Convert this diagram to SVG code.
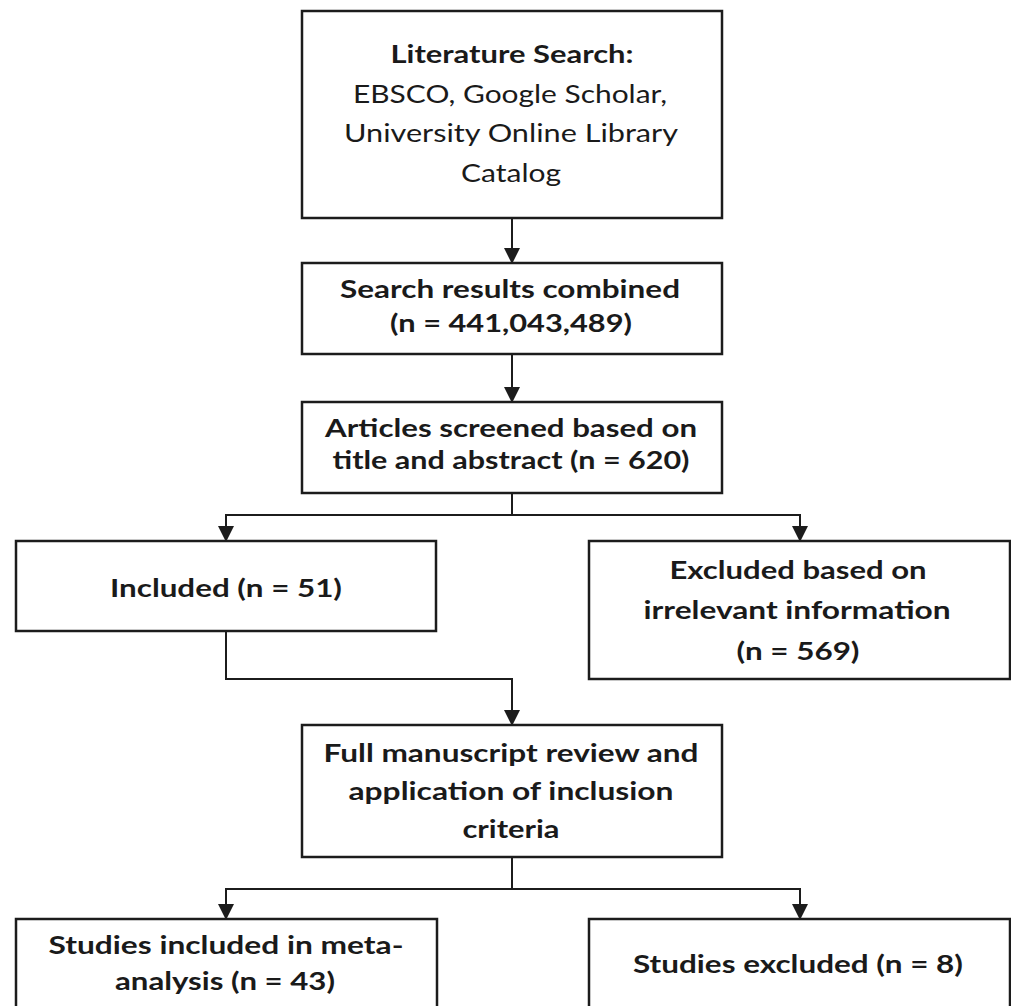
<svg xmlns="http://www.w3.org/2000/svg" width="1011" height="1006" viewBox="0 0 1011 1006">
<style>
.box{fill:#fff;stroke:#1c1c1c;stroke-width:2.5}
.b{font-family:Lato,"Open Sans","Liberation Sans",sans-serif;font-weight:bold;font-size:25px;fill:#1a1a1a;text-anchor:middle}
.r{font-family:Lato,"Open Sans","Liberation Sans",sans-serif;font-size:25px;fill:#1a1a1a;text-anchor:middle}
.c{fill:none;stroke:#1c1c1c;stroke-width:2}
</style>
<defs>
<marker id="ah" markerUnits="userSpaceOnUse" markerWidth="16" markerHeight="16" refX="15" refY="8" orient="auto">
<path d="M0,0 L16,8 L0,16 z" fill="#1c1c1c"/>
</marker>
</defs>
<rect width="1011" height="1006" fill="#fff"/>
<g id="connectors">
<path class="c" d="M512,218 V263" marker-end="url(#ah)"/>
<path class="c" d="M512,354 V402" marker-end="url(#ah)"/>
<path class="c" d="M512,493 V515 H226 V541" marker-end="url(#ah)"/>
<path class="c" d="M512,515 H800 V541" marker-end="url(#ah)"/>
<path class="c" d="M226,631 V679 H512 V725" marker-end="url(#ah)"/>
<path class="c" d="M512,857 V889 H226 V919" marker-end="url(#ah)"/>
<path class="c" d="M512,889 H800 V919" marker-end="url(#ah)"/>
</g>
<g id="n1">
<rect class="box" x="302" y="11" width="420" height="207"/>
<text class="b" x="512" y="63" textLength="243" lengthAdjust="spacingAndGlyphs">Literature Search:</text>
<text class="r" x="510" y="103" textLength="314" lengthAdjust="spacingAndGlyphs">EBSCO, Google Scholar,</text>
<text class="r" x="511" y="142" textLength="334" lengthAdjust="spacingAndGlyphs">University Online Library</text>
<text class="r" x="511" y="182" textLength="100" lengthAdjust="spacingAndGlyphs">Catalog</text>
</g>
<g id="n2">
<rect class="box" x="302" y="263" width="420" height="91"/>
<text class="b" x="510" y="298" textLength="340" lengthAdjust="spacingAndGlyphs">Search results combined</text>
<text class="b" x="511" y="332" textLength="242" lengthAdjust="spacingAndGlyphs">(n = 441,043,489)</text>
</g>
<g id="n3">
<rect class="box" x="302" y="402" width="420" height="91"/>
<text class="b" x="511" y="437" textLength="372" lengthAdjust="spacingAndGlyphs">Articles screened based on</text>
<text class="b" x="511" y="469" textLength="357" lengthAdjust="spacingAndGlyphs">title and abstract (n = 620)</text>
</g>
<g id="n4">
<rect class="box" x="16" y="541" width="420" height="90"/>
<text class="b" x="226" y="597" textLength="232" lengthAdjust="spacingAndGlyphs">Included (n = 51)</text>
</g>
<g id="n5">
<rect class="box" x="589" y="541" width="421" height="138"/>
<text class="b" x="798" y="579" textLength="257" lengthAdjust="spacingAndGlyphs">Excluded based on</text>
<text class="b" x="797" y="619" textLength="307" lengthAdjust="spacingAndGlyphs">irrelevant information</text>
<text class="b" x="798" y="660" textLength="123" lengthAdjust="spacingAndGlyphs">(n = 569)</text>
</g>
<g id="n6">
<rect class="box" x="302" y="725" width="420" height="132"/>
<text class="b" x="511" y="762" textLength="375" lengthAdjust="spacingAndGlyphs">Full manuscript review and</text>
<text class="b" x="511" y="800" textLength="325" lengthAdjust="spacingAndGlyphs">application of inclusion</text>
<text class="b" x="511" y="838" textLength="97" lengthAdjust="spacingAndGlyphs">criteria</text>
</g>
<g id="n7">
<rect class="box" x="16" y="919" width="421" height="100"/>
<text class="b" x="226" y="954" textLength="355" lengthAdjust="spacingAndGlyphs">Studies included in meta-</text>
<text class="b" x="225" y="990" textLength="220" lengthAdjust="spacingAndGlyphs">analysis (n = 43)</text>
</g>
<g id="n8">
<rect class="box" x="589" y="919" width="421" height="100"/>
<text class="b" x="798" y="973" textLength="330" lengthAdjust="spacingAndGlyphs">Studies excluded (n = 8)</text>
</g>
</svg>
